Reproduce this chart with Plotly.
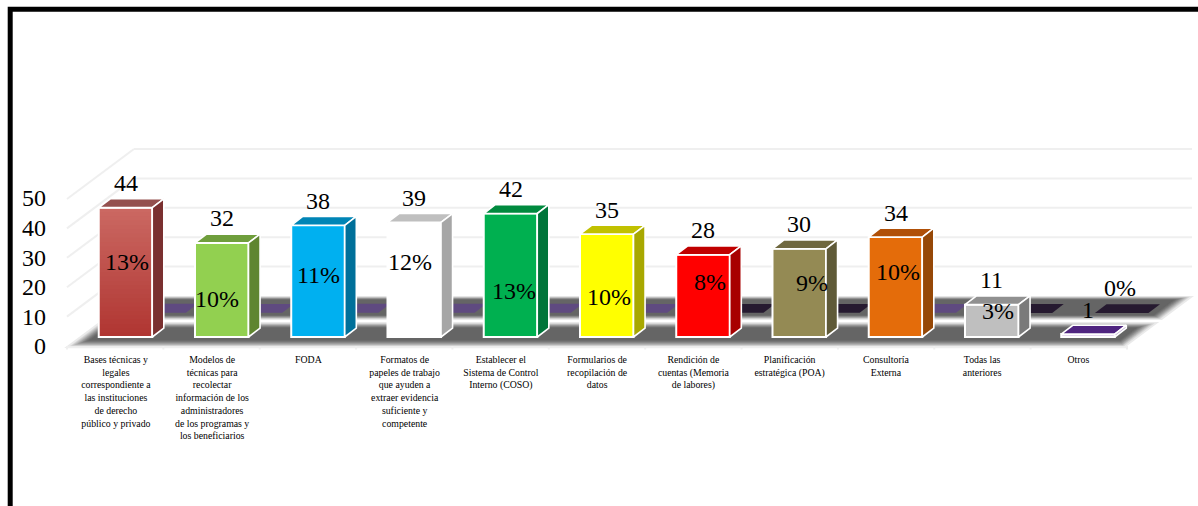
import plotly.graph_objects as go

# Chart data
categories = [
    "Bases técnicas y<br>legales<br>correspondiente a<br>las instituciones<br>de derecho<br>público y privado",
    "Modelos de<br>técnicas para<br>recolectar<br>información de los<br>administradores<br>de los programas y<br>los beneficiarios",
    "FODA",
    "Formatos de<br>papeles de trabajo<br>que ayuden a<br>extraer evidencia<br>suficiente y<br>competente",
    "Establecer el<br>Sistema de Control<br>Interno (COSO)",
    "Formularios de<br>recopilación de<br>datos",
    "Rendición de<br>cuentas (Memoria<br>de labores)",
    "Planificación<br>estratégica (POA)",
    "Consultoría<br>Externa",
    "Todas las<br>anteriores",
    "Otros",
]
counts = [44, 32, 38, 39, 42, 35, 28, 30, 34, 11, 1]
shares = [0.13, 0.10, 0.11, 0.12, 0.13, 0.10, 0.08, 0.09, 0.10, 0.03, 0.00]
y_ticks = [0, 10, 20, 30, 40, 50]

# Face colours for each column
front_colors = ["#b9403b", "#92d050", "#00b0f0", "#ffffff", "#00b050", "#ffff00",
                "#ff0000", "#948a54", "#e46c0a", "#bfbfbf", "#e6d8f0"]
top_colors = ["#94504e", "#6f9e3c", "#0085b6", "#bfbfbf", "#008a3e", "#c1c100",
              "#c00000", "#6f683f", "#b05008", "#909090", "#4f2480"]
side_colors = ["#7a3030", "#5f8530", "#00709a", "#a6a6a6", "#00753a", "#a8a800",
               "#a80000", "#5f5a38", "#964807", "#7a7a7a", "#b9a6cc"]
tile_colors = ["#5f4a80"] * 6 + ["#261a30", "#261a30", "#5f4a80", "#261a30", "#261a30"]

# Percent label placement (category offset, height on the value scale)
share_dx = [0.016, -0.05, 0.0, -0.04, 0.04, 0.02, 0.07, 0.13, 0.03, 0.07, 0.33]
share_h = [25.5, 13, 21, 25.5, 15.5, 13.5, 18.7, 18.4, 22, 9, 16.7]

# Canvas and scale set-up
W, H = 1198, 506
BOTTOM = 156
PLOT_H = H - BOTTOM
CAT_PX = 96.25
VAL_PX = 2.94
X_RANGE = [-125.5 / CAT_PX, (W - 125.5) / CAT_PX]
Y_RANGE = [-(PLOT_H - 337) / VAL_PX, 337 / VAL_PX]
AXIS_Y_RANGE = [-(PLOT_H - 346) / 2.96, 346 / 2.96]

BAR_W = 0.556
DX, DY = 0.12, 3.0
FLOOR_Y0, FLOOR_DY = -3.06, 17.0
FLOOR_U0, FLOOR_U1, FLOOR_DX = -0.608, 10.405, 0.696
REAR_DX, REAR_Y = 0.35, 8.16
WALL_RIGHT = 11.08
FONT = "Liberation Serif"
GRID = "#efefef"


def floor_xy(u, t):
    return u + t * FLOOR_DX, FLOOR_Y0 + t * FLOOR_DY


def poly_path(points):
    return "M " + " L ".join(f"{x:.4f},{y:.4f}" for x, y in points) + " Z"


def soft_band(t0, t1, inset_t0, inset_t1, steps, rgba):
    """Layered translucent parallelograms that give a blurred floor shadow."""
    out = []
    for k in range(steps):
        f = (k / (steps - 1)) ** 0.6
        a = t0 + inset_t0 * f
        b = t1 - inset_t1 * f
        u0 = FLOOR_U0 + 0.16 * f
        u1 = FLOOR_U1 - 0.16 * f
        pts = [floor_xy(u0, a), floor_xy(u1, a), floor_xy(u1, b), floor_xy(u0, b)]
        out.append(dict(type="path", path=poly_path(pts), xref="x", yref="y",
                        fillcolor=rgba, line=dict(width=0), layer="below"))
    return out


shapes = []
# Floor shadows
shapes += soft_band(-0.04, 0.48, 0.16, 0.12, 16, "rgba(84,84,84,0.12)")
shapes += soft_band(0.52, 1.00, 0.10, 0.08, 16, "rgba(84,84,84,0.12)")


def grid_line(x0, y0, x1, y1):
    return dict(type="line", x0=x0, y0=y0, x1=x1, y1=y1, xref="x", yref="y",
                line=dict(color=GRID, width=2), layer="below")


# Wall gridlines: one along the back, one slanting down the side
for v in y_ticks:
    bx, by = floor_xy(FLOOR_U0, 1)
    fx, fy = floor_xy(FLOOR_U0, 0)
    if v > 0:
        shapes.append(grid_line(bx, by + v, WALL_RIGHT, by + v))
        shapes.append(grid_line(fx, fy + v, bx, by + v))
fx0, fy0 = floor_xy(FLOOR_U0, 0)
fx1, _ = floor_xy(FLOOR_U1, 0)
shapes.append(grid_line(fx0, fy0 - 0.4, fx1, fy0 - 0.4))
# Small tick stubs under the front edge of the floor
for i in range(len(categories) + 1):
    sx = FLOOR_U0 + i * (FLOOR_U1 - FLOOR_U0) / len(categories)
    shapes.append(grid_line(sx, fy0, sx, fy0 - 1.2))

# Outer frame, running off the right and bottom of the page
shapes.append(dict(type="rect", xref="paper", yref="paper",
                   x0=10.2 / W, x1=1.05, y0=-1.0, y1=(PLOT_H - 9.3) / PLOT_H,
                   line=dict(color="#000000", width=5), fillcolor="rgba(0,0,0,0)",
                   layer="above"))

fig = go.Figure()


def face(points, color, yaxis="y2", line_w=1.6):
    xs = [p[0] for p in points] + [points[0][0]]
    ys = [p[1] for p in points] + [points[0][1]]
    fig.add_trace(go.Scatter(x=xs, y=ys, yaxis=yaxis, mode="lines", fill="toself",
                             fillcolor=color, hoverinfo="skip", showlegend=False,
                             line=dict(color="#ffffff" if line_w else color, width=line_w)))


# Rear row of flat tiles, one for each percentage
for i, s in enumerate(shares):
    x0 = i - BAR_W / 2 + REAR_DX
    x1 = x0 + BAR_W
    base = REAR_Y + s
    face([(x0, base), (x1, base), (x1 + DX, base + DY), (x0 + DX, base + DY)],
         tile_colors[i], yaxis="y", line_w=0)

# Shaded red column: nested slices, each running from its base to the column top
steps = 30
for k in range(steps):
    f = k / (steps - 1)
    color = f"rgb({round(0xb0 + f * (0xcb - 0xb0))},{round(0x36 + f * (0x68 - 0x36))},{round(0x32 + f * (0x62 - 0x32))})"
    base = counts[0] * k / steps
    fig.add_trace(go.Bar(x=[0], y=[counts[0] - base], base=[base],
                         width=BAR_W, marker=dict(color=color, line=dict(width=0)),
                         yaxis="y2", hoverinfo="skip", showlegend=False))

# Front faces of the columns
fills = ["rgba(0,0,0,0)"] + front_colors[1:]
fig.add_trace(go.Bar(x=list(range(len(counts))), y=counts, width=BAR_W, yaxis="y2",
                     marker=dict(color=fills, line=dict(color="#ffffff", width=2)),
                     showlegend=False, hovertext=categories))

# Top and side faces
for i, v in enumerate(counts):
    x0, x1 = i - BAR_W / 2, i + BAR_W / 2
    face([(x0, v), (x0 + DX, v + DY), (x1 + DX, v + DY), (x1, v)], top_colors[i])
    face([(x1, 0), (x1 + DX, DY), (x1 + DX, v + DY), (x1, v)], side_colors[i])

# Invisible trace that carries the value axis drawn at the floor's front edge
fig.add_trace(go.Scatter(x=[0, 0], y=[0, 50], yaxis="y3", mode="none",
                         hoverinfo="skip", showlegend=False))

annotations = []
for i, v in enumerate(counts):
    annotations.append(dict(x=i, y=v, yref="y2", xref="x", text=str(v), showarrow=False,
                            yshift=24.5, font=dict(family=FONT, size=24, color="#000000")))
for i, s in enumerate(shares):
    annotations.append(dict(x=i + share_dx[i], y=share_h[i], yref="y2", xref="x",
                            text=f"{round(s * 100)}%", showarrow=False,
                            font=dict(family=FONT, size=24, color="#000000")))

fig.update_layout(
    width=W, height=H,
    margin=dict(l=0, r=0, t=0, b=BOTTOM, autoexpand=False),
    paper_bgcolor="#ffffff", plot_bgcolor="#ffffff",
    barmode="overlay", showlegend=False,
    shapes=shapes, annotations=annotations,
    xaxis=dict(range=X_RANGE, showgrid=False, zeroline=False, showline=False,
               tickmode="array", tickvals=[i - 0.1 for i in range(len(categories))],
               ticktext=categories, tickangle=0, ticks="", ticklabeloverflow="allow",
               ticklabelstandoff=2,
               tickfont=dict(family=FONT, size=9.8, color="#000000")),
    yaxis=dict(range=Y_RANGE, visible=False, fixedrange=True),
    yaxis2=dict(range=Y_RANGE, overlaying="y", visible=False, fixedrange=True),
    yaxis3=dict(range=AXIS_Y_RANGE, overlaying="y", anchor="free", position=46 / W,
                side="left", showgrid=False, zeroline=False, showline=False, ticks="",
                tickmode="array", tickvals=y_ticks,
                tickfont=dict(family=FONT, size=24, color="#000000")),
)

fig.write_html("out.html")
